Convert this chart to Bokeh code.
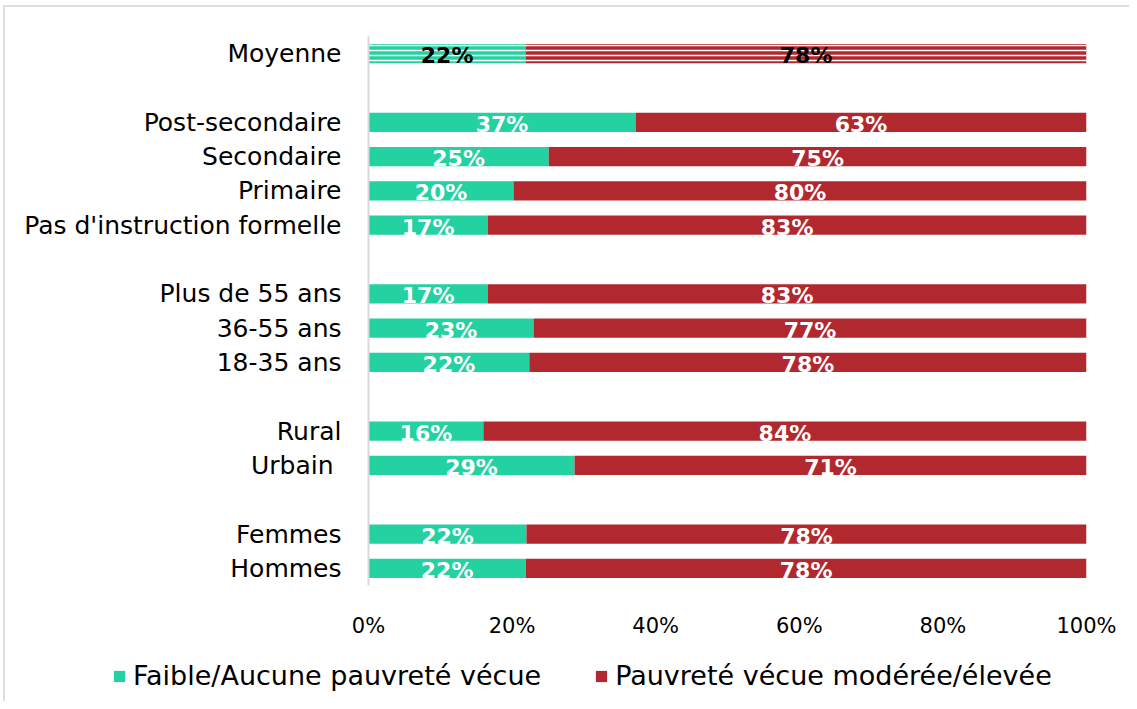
from bokeh.plotting import figure
from bokeh.layouts import column, row
from bokeh.models import ColumnDataSource, FixedTicker, Legend, LegendItem, Range1d
from bokeh.embed import file_html
from bokeh.resources import INLINE
from bokeh.core.properties import value

# ---- data ----
categories = ["Moyenne", "Post-secondaire", "Secondaire", "Primaire",
              "Pas d'instruction formelle", "Plus de 55 ans", "36-55 ans",
              "18-35 ans", "Rural", "Urbain ", "Femmes", "Hommes"]
groups = [0, 1, 1, 1, 1, 2, 2, 2, 3, 3, 4, 4]
faible = [21.9, 37.2, 25.1, 20.2, 16.6, 16.6, 23.0, 22.4, 16.0, 28.7, 22.0, 21.9]
moderee = [100 - v for v in faible]
faible_labels = ["22%", "37%", "25%", "20%", "17%", "17%", "23%", "22%", "16%", "29%", "22%", "22%"]
moderee_labels = ["78%", "63%", "75%", "80%", "83%", "83%", "77%", "78%", "84%", "71%", "78%", "78%"]
series_names = ["Faible/Aucune pauvreté vécue", "Pauvreté vécue modérée/élevée"]
x_ticks = [0, 20, 40, 60, 80, 100]
x_tick_labels = ["0%", "20%", "40%", "60%", "80%", "100%"]

GREEN = "#24D1A1"
RED = "#B1282E"
FONT = "DejaVu Sans"

n_slots = len(categories) + max(groups)
ys = [(n_slots - 1) - (i + g) for i, g in enumerate(groups)]

def make_source(idx):
    return ColumnDataSource(dict(
        y=[ys[i] for i in idx],
        faible=[faible[i] for i in idx],
        total=[100.0 for i in idx],
        fmid=[faible[i] / 2 for i in idx],
        mmid=[faible[i] + moderee[i] / 2 for i in idx],
        flab=[faible_labels[i] for i in idx],
        mlab=[moderee_labels[i] for i in idx],
    ))

avg_idx = [0]
main_idx = list(range(1, len(categories)))
src_main = make_source(main_idx)
src_avg = make_source(avg_idx)

p = figure(width=1124, height=633, output_backend="svg", toolbar_location=None,
           x_range=Range1d(0, 100), y_range=Range1d(-0.5, n_slots - 0.5),
           min_border_left=363, min_border_right=43, min_border_top=29,
           min_border_bottom=55)
p.outline_line_color = None
p.grid.grid_line_color = None

H = 0.56
p.hbar(y="y", left=0, right="faible", height=H, fill_color=GREEN,
       line_color=None, source=src_main)
p.hbar(y="y", left="faible", right="total", height=H, fill_color=RED,
       line_color=None, source=src_main)
p.hbar(y="y", left=0, right="faible", height=H, fill_color=GREEN, line_color=None,
       hatch_pattern="horizontal_line", hatch_color="white", hatch_scale=5,
       hatch_weight=1.5, source=src_avg)
p.hbar(y="y", left="faible", right="total", height=H, fill_color=RED, line_color=None,
       hatch_pattern="horizontal_line", hatch_color="white", hatch_scale=5,
       hatch_weight=1.5, source=src_avg)

for src, col in ((src_main, "white"), (src_avg, "black")):
    p.text(x="fmid", y="y", text="flab", source=src, text_align="center",
           text_baseline="middle", text_color=col, text_font=value(FONT),
           text_font_style="bold", text_font_size="22px", y_offset=2)
    p.text(x="mmid", y="y", text="mlab", source=src, text_align="center",
           text_baseline="middle", text_color=col, text_font=value(FONT),
           text_font_style="bold", text_font_size="22px", y_offset=2)

# axes
p.xaxis.ticker = FixedTicker(ticks=x_ticks)
p.xaxis.major_label_overrides = {t: l for t, l in zip(x_ticks, x_tick_labels)}
p.xaxis.axis_line_color = None
p.xaxis.major_tick_line_color = None
p.xaxis.minor_tick_line_color = None
p.xaxis.major_label_standoff = 22
p.xaxis.major_label_text_font = FONT
p.xaxis.major_label_text_font_size = "21px"
p.xaxis.major_label_text_color = "#000000"

p.yaxis.ticker = FixedTicker(ticks=ys)
p.yaxis.major_label_overrides = {y: c for y, c in zip(ys, categories)}
p.yaxis.axis_line_color = "#d9d9d9"
p.yaxis.axis_line_width = 2
p.yaxis.major_tick_line_color = None
p.yaxis.minor_tick_line_color = None
p.yaxis.major_label_standoff = 21
p.yaxis.major_label_text_font = FONT
p.yaxis.major_label_text_font_size = "25px"
p.yaxis.major_label_text_color = "#000000"

# legend in a strip below the chart (its bar renderers are hidden)
pl = figure(width=1124, height=61, output_backend="svg", toolbar_location=None,
            x_range=Range1d(-20, -19), y_range=Range1d(-20, -19),
            min_border_left=0, min_border_right=0, min_border_top=0,
            min_border_bottom=0)
pl.axis.visible = False
pl.grid.grid_line_color = None
pl.outline_line_color = None
lg = pl.hbar(y="y", left=0, right="faible", height=H, fill_color=GREEN,
             line_color=None, source=src_main, visible=False)
lr = pl.hbar(y="y", left="faible", right="total", height=H, fill_color=RED,
             line_color=None, source=src_main, visible=False)
legend = Legend(items=[LegendItem(label=series_names[0], renderers=[lg]),
                       LegendItem(label=series_names[1], renderers=[lr])],
                orientation="horizontal", location=(107, 10),
                glyph_width=14, glyph_height=14, label_standoff=7, spacing=53,
                padding=0, margin=0, border_line_color=None,
                background_fill_alpha=0, inactive_fill_alpha=0,
                label_text_font=FONT, label_text_font_size="27px",
                label_text_color="#000000")
pl.add_layout(legend, "center")

layout = column(p, row(pl), spacing=0)
layout.styles = {"border-left": "2px solid #dedede", "border-top": "2px solid #dedede",
                 "margin-left": "3px", "margin-top": "5px"}
open("out.html", "w").write(file_html(layout, INLINE))
